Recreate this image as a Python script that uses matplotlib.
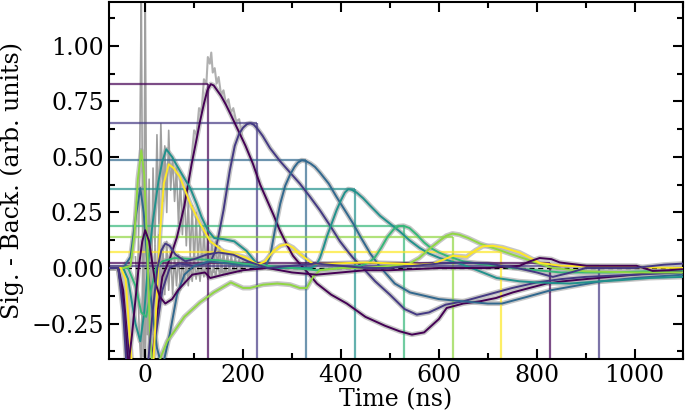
import numpy as np
import matplotlib
matplotlib.use("Agg")
import matplotlib.pyplot as plt
from matplotlib.ticker import MultipleLocator

plt.rcParams['font.family'] = ['DejaVu Serif']
plt.rcParams['font.size'] = 17

# ---------------- data ----------------
peak_times = [128, 228, 328, 428, 528, 628, 728, 828, 928]
peak_amps = [0.83, 0.655, 0.488, 0.355, 0.187, 0.141, 0.07, 0.024, 0.01]

sA = [(-75,0),(-55,0),(-45,-0.1),(-35,-0.35),(-25,-0.5),(-12,-0.55),(0,-0.55),(12,-0.45),(25,-0.2),(35,-0.04),(50,0.04),(65,0.14),(80,0.28),(95,0.47),(105,0.58),(112,0.66),(120,0.74),(127,0.80),(134,0.828),(140,0.822),(147,0.80),(155,0.775),(165,0.735),(175,0.69),(190,0.62),(205,0.55),(220,0.47),(235,0.375),(250,0.30),(262,0.24),(275,0.17),(289,0.107),(302,0.055),(316,0.018),(330,-0.015),(351,-0.07),(380,-0.12),(412,-0.16),(450,-0.22),(490,-0.26),(520,-0.285),(545,-0.30),(570,-0.29),(600,-0.23),(616,-0.18),(650,-0.16),(684,-0.15),(717,-0.135),(751,-0.11),(785,-0.09),(820,-0.07),(853,-0.06),(900,-0.05),(950,-0.04),(1000,-0.03),(1050,-0.02),(1100,-0.015)]
sB = [(-75,0),(-55,0),(-45,-0.15),(-35,-0.4),(-20,-0.5),(0,-0.5),(15,-0.4),(25,-0.25),(35,-0.1),(50,0.0),(70,0.02),(100,0.01),(125,0.02),(135,0.035),(142,0.07),(149,0.135),(160,0.26),(173,0.44),(183,0.55),(192,0.605),(200,0.632),(208,0.648),(215,0.652),(222,0.645),(230,0.625),(240,0.595),(255,0.54),(276,0.48),(296,0.43),(316,0.38),(337,0.32),(357,0.26),(378,0.19),(398,0.12),(412,0.08),(425,0.045),(445,0.0),(470,-0.06),(500,-0.12),(530,-0.185),(555,-0.21),(580,-0.20),(614,-0.165),(650,-0.15),(700,-0.12),(750,-0.09),(800,-0.065),(850,-0.05),(900,-0.04),(1000,-0.03),(1100,-0.02)]
sC = [(-75,0),(-45,0),(-30,0.05),(-18,0.25),(-10,0.36),(-3,0.25),(5,0.0),(15,-0.2),(24,-0.36),(35,-0.45),(50,-0.3),(65,-0.12),(80,-0.03),(100,0.01),(130,0.03),(170,0.02),(210,0.01),(235,0.0),(248,0.015),(256,0.06),(265,0.17),(276,0.29),(286,0.37),(296,0.42),(305,0.455),(312,0.475),(320,0.485),(328,0.482),(338,0.47),(347,0.455),(357,0.43),(375,0.38),(391,0.32),(408,0.26),(425,0.20),(440,0.14),(460,0.065),(480,0.005),(510,-0.07),(541,-0.11),(600,-0.14),(649,-0.15),(700,-0.16),(729,-0.16),(780,-0.13),(829,-0.10),(880,-0.08),(931,-0.06),(1000,-0.045),(1100,-0.03)]
sD = [(-75,0),(-45,0),(-35,-0.05),(-20,-0.25),(-10,-0.33),(-2,-0.2),(6,0.02),(15,0.2),(27,0.39),(35,0.48),(43,0.535),(55,0.5),(65,0.46),(81,0.40),(92,0.36),(105,0.29),(115,0.23),(128,0.17),(141,0.135),(160,0.13),(182,0.12),(207,0.077),(228,0.02),(250,0.0),(300,0.0),(340,0.0),(350,0.015),(357,0.045),(364,0.09),(371,0.14),(381,0.2),(391,0.26),(400,0.305),(408,0.34),(415,0.355),(422,0.352),(432,0.34),(445,0.315),(460,0.28),(480,0.235),(500,0.2),(520,0.165),(540,0.125),(561,0.09),(580,0.065),(602,0.045),(649,0.015),(690,-0.02),(718,-0.045),(765,-0.06),(800,-0.065),(867,-0.07),(930,-0.06),(969,-0.055),(1030,-0.045),(1100,-0.04)]
sE = [(-75,0),(-35,0),(-20,-0.08),(-8,-0.2),(2,-0.22),(12,-0.1),(22,0.0),(35,0.03),(60,0.045),(100,0.04),(150,0.035),(200,0.02),(250,0.01),(300,0.0),(350,-0.01),(400,0.0),(440,0.01),(458,0.025),(470,0.05),(482,0.09),(495,0.14),(508,0.175),(518,0.188),(528,0.19),(540,0.18),(555,0.15),(570,0.115),(585,0.088),(600,0.07),(616,0.055),(650,0.03),(684,0.018),(750,0.0),(850,-0.02),(950,-0.02),(1100,-0.01)]
sF = [(-75,0),(-45,0),(-30,0.01),(-22,0.15),(-15,0.4),(-8,0.53),(-2,0.42),(4,0.1),(10,-0.3),(15,-0.45),(25,-0.45),(32,-0.40),(45,-0.33),(61,-0.28),(80,-0.22),(112,-0.155),(140,-0.11),(175,-0.065),(200,-0.09),(214,-0.09),(241,-0.075),(270,-0.07),(296,-0.075),(316,-0.09),(330,-0.09),(343,-0.04),(357,-0.01),(400,0.0),(450,0.0),(500,0.01),(540,0.02),(560,0.045),(580,0.085),(600,0.12),(615,0.145),(628,0.155),(642,0.15),(660,0.135),(684,0.11),(718,0.085),(751,0.06),(792,0.03),(833,0.0),(900,-0.015),(1000,-0.02),(1100,-0.02)]
sG = [(-75,0),(-50,0),(-40,-0.05),(-32,-0.3),(-25,-0.5),(0,-0.55),(15,-0.5),(22,-0.2),(30,0.15),(38,0.38),(48,0.467),(58,0.45),(71,0.41),(92,0.29),(112,0.20),(133,0.12),(159,0.077),(185,0.06),(207,0.046),(230,0.015),(245,0.03),(262,0.077),(276,0.1),(289,0.107),(302,0.092),(316,0.063),(343,0.018),(380,0.02),(450,0.025),(520,0.02),(560,0.015),(588,0.018),(612,0.04),(629,0.055),(657,0.05),(675,0.08),(690,0.098),(710,0.1),(730,0.093),(765,0.07),(806,0.023),(850,0.01),(950,0.005),(1100,0.0)]
sH = [(-75,0),(-55,0),(-45,-0.15),(-35,-0.45),(-27,-0.3),(-14,-0.01),(-6,0.12),(0,0.17),(8,0.12),(20,-0.06),(30,-0.13),(41,-0.16),(55,-0.14),(67,-0.10),(96,-0.03),(122,-0.02),(133,-0.045),(160,-0.03),(200,-0.01),(250,0.0),(300,-0.02),(350,-0.03),(400,-0.02),(450,-0.01),(500,-0.01),(600,0.0),(700,0.0),(765,0.01),(786,0.03),(806,0.045),(830,0.04),(847,0.025),(902,0.01),(1004,0.01),(1037,-0.013),(1070,-0.01),(1100,-0.005)]
sI = [(-75,0),(-55,0),(-45,-0.2),(-38,-0.45),(-20,-0.5),(5,-0.45),(15,-0.2),(25,0.0),(33,0.08),(41,0.11),(50,0.10),(62,0.06),(82,0.03),(100,0.04),(125,0.06),(150,0.07),(180,0.06),(210,0.03),(250,0.0),(300,0.01),(350,0.02),(400,0.01),(450,0.0),(500,0.0),(550,0.01),(600,0.02),(650,0.025),(700,0.02),(760,0.0),(800,-0.02),(833,-0.04),(870,-0.02),(900,0.0),(1000,0.0),(1060,0.015),(1100,0.02)]
series = [sA, sB, sC, sD, sE, sF, sG, sH, sI]

# raw noisy data traces near t = 0 (gray)
noise_t0, noise_dt = -20, 4
noise_hi = [0.05,-0.1,0.3,1.25,-0.4,1.25,-0.3,0.4,-0.2,0.45,0.1,0.6,0.2,0.65,0.3,0.55,0.25,0.62,0.35,0.5,
            0.3,0.45,0.2,0.4,0.15,0.35,0.1,0.3,0.05,0.28,0.0,0.25,0.02,0.2,-0.02,0.18,0.0,0.15,-0.03,0.12,
            -0.02,0.12,0.0,0.1,-0.02,0.08,-0.03,0.07,-0.02,0.06,-0.02,0.05,-0.01,0.04,-0.02,0.03]
noise_lo = [-0.05,0.02,-0.3,-0.45,0.2,-0.45,0.1,-0.4,0.15,-0.3,0.1,-0.2,0.15,-0.15,0.1,-0.12,0.12,-0.1,0.08,-0.12,
            0.05,-0.08,0.06,-0.1,0.05,-0.07,0.04,-0.08,0.03,-0.06,0.04,-0.05,0.02,-0.06,0.03,-0.04,0.02,-0.05,0.02,-0.04,
            0.01,-0.04,0.02,-0.03,0.01,-0.03,0.01,-0.03,0.0,-0.02,0.01,-0.02,0.0,-0.02,0.01,-0.01]
gray_peak = [(95,0.5),(100,0.62),(105,0.6),(110,0.72),(115,0.7),(120,0.85),(125,0.83),(128,0.95),(132,0.92),(135,0.97),
             (138,0.88),(142,0.9),(146,0.83),(150,0.86),(155,0.78),(160,0.8),(165,0.74),(170,0.76),(175,0.7),(180,0.72),
             (186,0.66),(192,0.67),(198,0.6)]

colors7 = ['#440154', '#443983', '#31688e', '#21918c', '#35b779', '#90d743', '#fde725']
XMIN, XMAX = -75, 1100
YMIN, YMAX = -0.41, 1.2

# ---------------- figure ----------------
fig = plt.figure(figsize=(6.85, 4.18), dpi=100)
ax = fig.add_axes([0.1584, 0.141, 0.8394, 0.8554])

gray = '#b4b4b4'
for s in series:
    t, y = zip(*s)
    ax.plot(t, y, color=gray, lw=3.6, alpha=0.75, zorder=1, solid_capstyle='butt')
nt = noise_t0 + noise_dt * np.arange(len(noise_hi))
ax.plot(nt, noise_hi, color='#a0a0a0', lw=1.2, zorder=1)
ax.plot(nt, noise_lo, color='#a0a0a0', lw=1.2, zorder=1)
gt, gy = zip(*gray_peak)
ax.plot(gt, gy, color='#b0b0b0', lw=1.5, zorder=1)

ax.axhline(0, color='k', ls='--', lw=0.9, dashes=(4, 3), zorder=2)

for i, (tp, ap) in enumerate(zip(peak_times, peak_amps)):
    c = colors7[i % 7]
    ax.hlines(ap, XMIN, tp, color=c, lw=1.6, alpha=0.7, zorder=2)
    ax.vlines(tp, YMIN, ap, color=c, lw=1.6, alpha=0.7, zorder=2)

for i, s in enumerate(series):
    t, y = zip(*s)
    ax.plot(t, y, color=colors7[i % 7], lw=1.4, zorder=3)

ax.set_xlim(XMIN, XMAX)
ax.set_ylim(YMIN, YMAX)
ax.xaxis.set_major_locator(MultipleLocator(200))
ax.xaxis.set_minor_locator(MultipleLocator(100))
ax.yaxis.set_major_locator(MultipleLocator(0.25))
ax.yaxis.set_minor_locator(MultipleLocator(0.125))
ax.tick_params(which='both', direction='in', top=True, right=True, width=1.5)
ax.tick_params(which='major', length=7)
ax.tick_params(which='minor', length=4)
for sp in ax.spines.values():
    sp.set_linewidth(1.5)
ax.set_xlabel('Time (ns)', labelpad=1)
ax.set_ylabel('Sig. - Back. (arb. units)', labelpad=5)

fig.savefig('out.png', dpi=100)
